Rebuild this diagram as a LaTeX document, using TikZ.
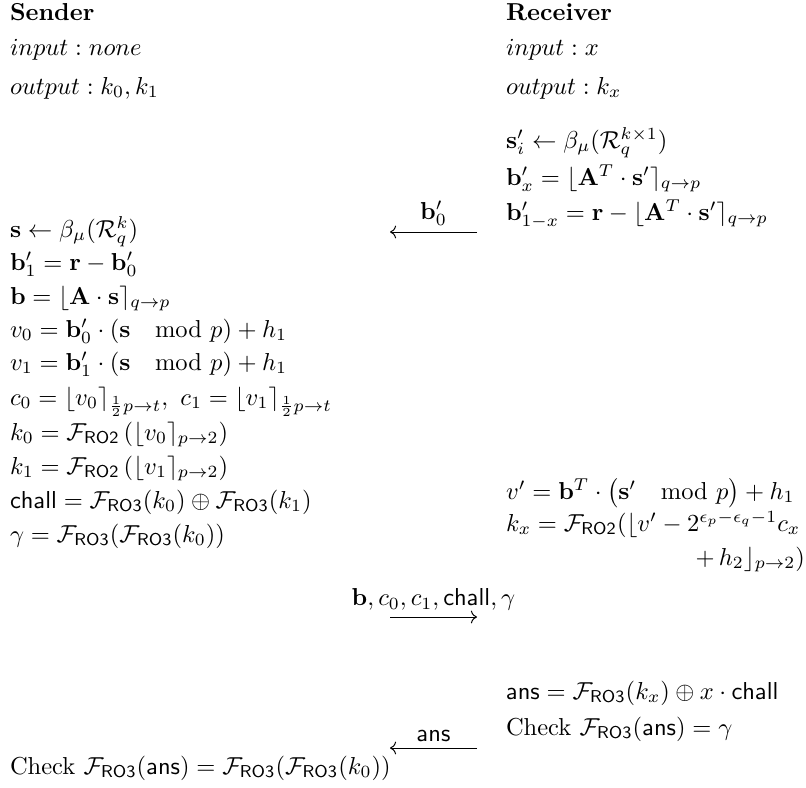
\documentclass[tikz,border=0pt]{standalone}
\usepackage{amsmath,amssymb}
\usetikzlibrary{arrows.meta}
\newcommand{\FRO}[1]{\mathcal{F}_{\mathsf{RO#1}}}
\newcommand{\Mmod}[1]{\mkern18mu\mathrm{mod}\,\,#1}
\begin{document}
\begin{tikzpicture}[x=0.408pt,y=-0.408pt,
  ln/.style={anchor=base west,inner sep=0pt,outer sep=0pt},
  lnr/.style={anchor=base east,inner sep=0pt,outer sep=0pt},
  msg/.style={-{Computer Modern Rightarrow},line width=0.4pt},
  lbl/.style={above,inner sep=2.5pt}]
\useasboundingbox (0,0) rectangle (806,787);
% headers
\node[ln] (sh) at (10,20) {\textbf{Sender}};
\node[ln] (si) at (10,55) {$input: none$};
\node[ln] (so) at (10,94) {$output: k_0, k_1$};
\node[ln] (rh) at (506,20) {\textbf{Receiver}};
\node[ln] (ri) at (506,55) {$input: x$};
\node[ln] (ro) at (506,94) {$output: k_x$};
% receiver first step
\node[ln] (r1) at (506,148) {$\mathbf{s}'_i \leftarrow \beta_\mu(\mathcal{R}_q^{k\times 1})$};
\node[ln] (r2) at (506,185) {$\mathbf{b}'_x = \lfloor \mathbf{A}^T\cdot \mathbf{s}'\rceil_{q\to p}$};
\node[ln] (r3) at (506,220) {$\mathbf{b}'_{1-x} = \mathbf{r} - \lfloor \mathbf{A}^T\cdot \mathbf{s}'\rceil_{q\to p}$};
% sender
\node[ln] (l1) at (10,237) {$\mathbf{s} \leftarrow \beta_\mu(\mathcal{R}_q^{k})$};
\node[ln] (l2) at (10,270) {$\mathbf{b}'_1 = \mathbf{r} - \mathbf{b}'_0$};
\node[ln] (l3) at (10,304) {$\mathbf{b} = \lfloor \mathbf{A}\cdot \mathbf{s}\rceil_{q\to p}$};
\node[ln] (l4) at (10,337) {$v_0 = \mathbf{b}'_0\cdot(\mathbf{s} \Mmod{p}) + h_1$};
\node[ln] (l5) at (10,370) {$v_1 = \mathbf{b}'_1\cdot(\mathbf{s} \Mmod{p}) + h_1$};
\node[ln] (l6) at (10,405) {$c_0 = \lfloor v_0\rceil_{\frac{1}{2}p\to t},\ c_1 = \lfloor v_1\rceil_{\frac{1}{2}p\to t}$};
\node[ln] (l7) at (10,440) {$k_0 = \FRO{2}\,(\lfloor v_0\rceil_{p\to 2})$};
\node[ln] (l8) at (10,474) {$k_1 = \FRO{2}\,(\lfloor v_1\rceil_{p\to 2})$};
\node[ln] (l9) at (10,508) {$\mathsf{chall} = \FRO{3}(k_0)\oplus\FRO{3}(k_1)$};
\node[ln] (l10) at (10,542) {$\gamma = \FRO{3}(\FRO{3}(k_0))$};
% receiver second step
\node[ln] (r4) at (506,499) {$v' = \mathbf{b}^T\cdot\big(\mathbf{s}' \Mmod{p}\big) + h_1$};
\node[ln] (r5) at (506,531) {$k_x = \FRO{2}(\lfloor v' - 2^{\epsilon_p-\epsilon_q-1}c_x$};
\node[lnr] (r6) at (805,565) {$+\, h_2\rfloor_{p\to 2})$};
% receiver third step
\node[ln] (r7) at (506,699) {$\mathsf{ans} = \FRO{3}(k_x)\oplus x\cdot\mathsf{chall}$};
\node[ln] (r8) at (506,735) {$\text{Check } \FRO{3}(\mathsf{ans}) = \gamma$};
\node[ln] (l11) at (10,774) {$\text{Check } \FRO{3}(\mathsf{ans}) = \FRO{3}(\FRO{3}(k_0))$};
% messages
\coordinate (m1a) at (477,232);
\coordinate (m1b) at (390,232);
\coordinate (m2a) at (390,617);
\coordinate (m2b) at (477,617);
\coordinate (m3a) at (477,748);
\coordinate (m3b) at (390,748);
\draw[msg] (m1a) -- node[lbl] {$\mathbf{b}'_0$} (m1b);
\draw[msg] (m2a) -- node[lbl] {$\mathbf{b}, c_0, c_1, \mathsf{chall}, \gamma$} (m2b);
\draw[msg] (m3a) -- node[lbl] {$\mathsf{ans}$} (m3b);
\end{tikzpicture}
\end{document}
